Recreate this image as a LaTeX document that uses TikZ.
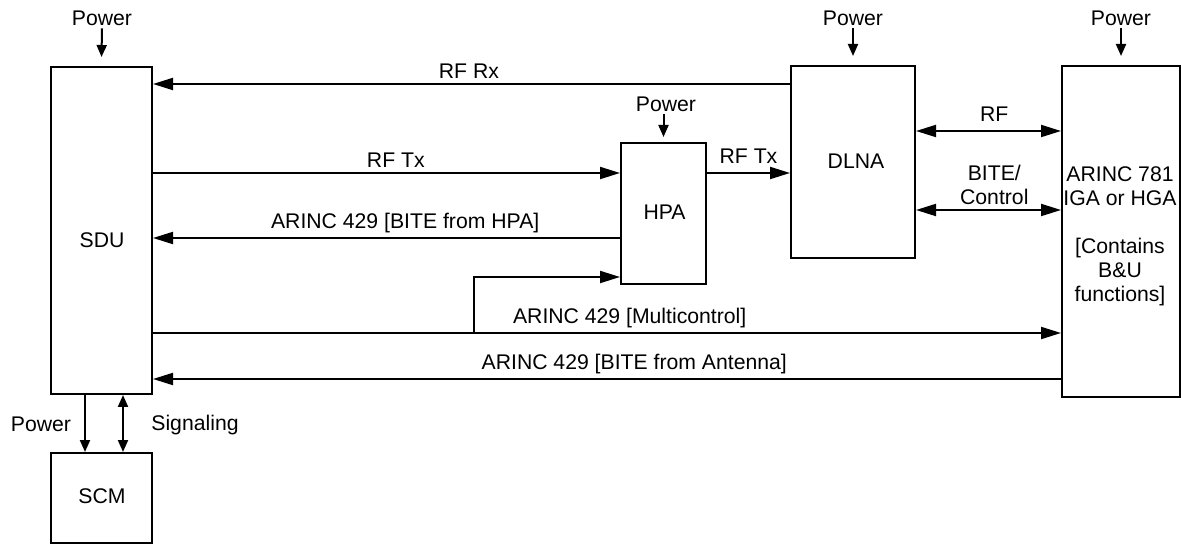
\documentclass[tikz,border=0pt]{standalone}
\usepackage{fontspec}
\setmainfont{Liberation Sans}
\usetikzlibrary{arrows.meta,positioning}

\begin{document}
\begin{tikzpicture}[x=0.5pt,y=-0.5pt,line width=1pt,
      box/.style={draw,line width=1pt,inner sep=0pt,align=center},
      lbl/.style={inner sep=1pt,align=center},
      arr/.style={-{Triangle[length=10pt,width=6pt]}},
      dblarr/.style={{Triangle[length=10pt,width=6pt]}-{Triangle[length=10pt,width=6pt]}},
      pwr/.style={-{Triangle[length=6pt,width=5pt]}},
      dblpwr/.style={{Triangle[length=6pt,width=5pt]}-{Triangle[length=6pt,width=5pt]}}]
      \fontsize{10.6}{12}\selectfont
      \useasboundingbox (0,0) rectangle (1181,544);
      % units
      \node[box,minimum width=50.5pt,minimum height=163.5pt] (sdu) at (101.5,230.5) {};
      \node[box,minimum width=62pt,minimum height=96pt] (dlna) at (853,162) {};
      \node[box,minimum width=59pt,minimum height=165.5pt] (ant) at (1121,231.5) {};
      \node[box,minimum width=42.5pt,minimum height=70.5pt] (hpa) at (663.5,213.5) {};
      \node[box,minimum width=50.5pt,minimum height=45pt] (scm) at (101.5,498) {};
      \node[lbl] at (102,240) {SDU};
      \node[lbl] at (856,161) {DLNA};
      \node[lbl] at (664.5,212) {HPA};
      \node[lbl] at (102,496) {SCM};
      \node[lbl] at (1120,236) {ARINC 781\\IGA or HGA\\[12pt]{[}Contains\\B\&U\\functions{]}};
      % power feeds
      \node[lbl] (pwrsdu) at (102,18) {Power};
      \node[lbl] (pwrdlna) at (853,18) {Power};
      \node[lbl] (pwrant) at (1121,18) {Power};
      \node[lbl] (pwrhpa) at (666,104) {Power};
      \draw[pwr] (pwrsdu.south) -- ([yshift=4.5pt]sdu.north);
      \draw[pwr] (pwrdlna.south) -- ([yshift=4.5pt]dlna.north);
      \draw[pwr] (pwrant.south) -- ([yshift=4.5pt]ant.north);
      \draw[pwr] (pwrhpa.south -| hpa.north) -- ([yshift=2.5pt]hpa.north);
      % signal lines
      \draw[arr] (dlna.west |- 0,84) -- (sdu.east |- 0,84) node[lbl,pos=0.504,above=1pt] {RF Rx};
      \draw[arr] (sdu.east |- 0,173) -- (hpa.west |- 0,173) node[lbl,pos=0.52,above=1pt] {RF Tx};
      \draw[arr] (hpa.east |- 0,173) -- (dlna.west |- 0,173) node[lbl,midway,above=3pt] {RF Tx};
      \draw[arr] (hpa.west |- 0,238) -- (sdu.east |- 0,238) node[lbl,pos=0.46,above=1pt] {ARINC 429 [BITE from HPA]};
      \draw[dblarr] (dlna.east |- 0,131) -- (ant.west |- 0,131) node[lbl,pos=0.54,above=3pt] {RF};
      \draw[dblarr] (dlna.east |- 0,210) -- (ant.west |- 0,210) node[lbl,pos=0.54,above=1pt] {BITE/\\Control};
      \draw[arr] (sdu.east |- 0,333) -- (ant.west |- 0,333) coordinate[pos=0.354] (tap)
        node[lbl,pos=0.525,above=1pt] {ARINC 429 [Multicontrol]};
      \draw[arr] (tap) |- (hpa.west |- 0,277);
      \draw[arr] (ant.west |- 0,379) -- (sdu.east |- 0,379) node[lbl,pos=0.47,above=1pt] {ARINC 429 [BITE from Antenna]};
      % SDU to SCM
      \draw[pwr] (sdu.south -| 85,0) -- (scm.north -| 85,0);
      \draw[dblpwr] (sdu.south -| 123,0) -- (scm.north -| 123,0);
      \node[lbl] at (41,424) {Power};
      \node[lbl] at (195,425) {Signaling};
    \end{tikzpicture}
\end{document}
